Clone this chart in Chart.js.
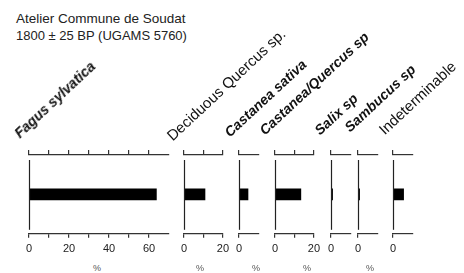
<!DOCTYPE html>
<html>
<head>
<meta charset="utf-8">
<script src="https://cdn.jsdelivr.net/npm/chart.js@4"></script>
<style>
body { margin: 0; background: #fff; font-family: Arial, "Liberation Sans", sans-serif; }
#wrap { position: relative; width: 464px; height: 273px; overflow: hidden; }
.title { position: absolute; left: 16px; line-height: 16px; color: #222; white-space: nowrap; }
.taxon { position: absolute; font-size: 15px; line-height: 15px; color: #111; white-space: nowrap; transform-origin: 0 100%; transform: rotate(-43deg); }
.bi { font-weight: bold; font-style: italic; font-size: 14px; }
.pct { position: absolute; top: 263px; font-size: 9px; color: #555; }
canvas { position: absolute; top: 140px; }
</style>
</head>
<body>
<div id="wrap">
  <div class="title" style="top:11px;font-size:13.5px">Atelier Commune de Soudat</div>
  <div class="title" style="top:28px;font-size:13px">1800 ± 25 BP (UGAMS 5760)</div>
</div>
<script>
// data (% per taxon)
var taxa = ["Fagus sylvatica", "Deciduous Quercus sp.", "Castanea sativa", "Castanea/Quercus sp", "Salix sp", "Sambucus sp", "Indeterminable"];
var percent = [63.7, 10.8, 4.5, 13.3, 0.8, 0.8, 5.3];
var axisMax = [70, 20, 10, 20, 10, 10, 10];
var lastTick = [60, 20, 0, 20, 0, 0, 0];
var tickLabels = [[0, 20, 40, 60], [0, 20], [0], [0, 20], [0], [0], [0]];
var pctUnit = ["%", "%", "%", "%", "", "%", ""];

// layout
var zeroX = [29, 184, 239, 275, 331, 358, 393];
var labelPos = [[22, 138], [174, 140], [232, 137], [267, 135], [322, 135], [352, 132], [386, 134]];
var labelBold = [true, false, true, true, true, true, false];
var pctX = [97, 200, 256, 307, 0, 370, 0];

var wrap = document.getElementById("wrap");

// vertical zero line, short of both axes
var zeroLine = {
    id: 'zeroLine',
    afterDraw: function (chart) {
        var c = chart.ctx, a = chart.chartArea;
        var x = Math.round(chart.scales.x.getPixelForValue(0)) + 0.5;
        c.save();
        c.strokeStyle = '#222';
        c.lineWidth = 1.2;
        c.beginPath();
        c.moveTo(x, a.top + 5);
        c.lineTo(x, a.bottom - 4);
        c.stroke();
        c.restore();
    }
};

function axis(i, pos) {
    return {
        type: 'linear',
        position: pos,
        min: 0,
        max: axisMax[i],
        grid: {
            drawOnChartArea: false,
            tickLength: pos == 'top' ? 5 : 4,
            lineWidth: 1.2,
            color: function (c) {
                return c.tick && c.tick.value <= lastTick[i] ? '#333' : 'rgba(0,0,0,0)';
            }
        },
        border: { color: '#333', width: 1.2 },
        ticks: {
            display: pos == 'bottom',
            stepSize: 10,
            autoSkip: false,
            maxRotation: 0,
            padding: 5,
            color: '#222',
            font: { size: 11, family: 'Arial, "Liberation Sans", sans-serif' },
            callback: function (v) {
                return tickLabels[i].indexOf(v) >= 0 ? String(v) : '';
            }
        }
    };
}

for (var i = 0; i < taxa.length; i++) {
    var cv = document.createElement("canvas");
    cv.width = axisMax[i] * 2 + 20;
    cv.height = 121;
    cv.style.left = (zeroX[i] - 10) + "px";
    wrap.appendChild(cv);

    new Chart(cv, {
        type: 'bar',
        data: {
            labels: [taxa[i]],
            datasets: [{
                data: [percent[i]],
                backgroundColor: '#000',
                barThickness: 11,
                xAxisID: 'x'
            }]
        },
        options: {
            indexAxis: 'y',
            responsive: false,
            animation: false,
            layout: { padding: { left: 10, right: 10, top: 10, bottom: 0 } },
            plugins: { legend: { display: false }, tooltip: { enabled: false } },
            scales: {
                x: axis(i, 'bottom'),
                x2: axis(i, 'top'),
                y: { display: false }
            }
        },
        plugins: [zeroLine]
    });

    // rotated taxon name, baseline starting at labelPos
    var lab = document.createElement("div");
    lab.className = "taxon" + (labelBold[i] ? " bi" : "");
    lab.textContent = taxa[i];
    lab.style.left = labelPos[i][0] + "px";
    lab.style.top = (labelPos[i][1] - 12) + "px";
    wrap.appendChild(lab);

    if (pctUnit[i]) {
        var p = document.createElement("div");
        p.className = "pct";
        p.textContent = pctUnit[i];
        p.style.left = (pctX[i] - 4) + "px";
        wrap.appendChild(p);
    }
}
</script>
</body>
</html>
